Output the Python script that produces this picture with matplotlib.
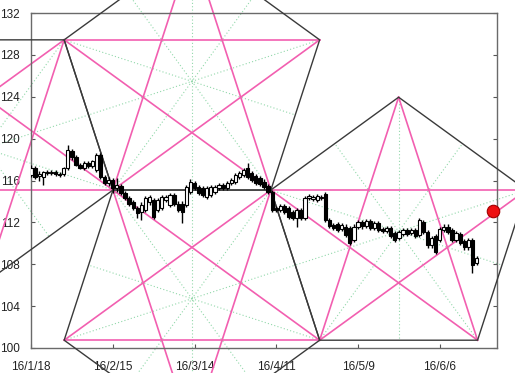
import numpy as np
import matplotlib
matplotlib.use('Agg')
import matplotlib.pyplot as plt

plt.rcParams['font.family'] = ['Liberation Sans', 'DejaVu Sans']

# daily candles, x = trading day index from 16/1/18
opens = [116.5, 117.2, 116.4, 116.3, 116.8, 116.7, 116.8, 116.6, 116.6, 117.2,
         118.8, 118.2, 117.5, 117.2, 117.7, 117.4, 117.0, 118.4, 116.3, 115.8,
         116.0, 115.3, 115.5, 114.8, 114.3, 113.9, 113.4, 113.0, 113.2, 113.9,
         114.1, 113.2, 113.4, 114.1, 113.7, 114.6, 113.8, 113.8, 113.7, 114.9,
         115.8, 115.4, 115.3, 114.4, 114.6, 114.9, 115.3, 115.6, 115.3, 115.8,
         115.9, 116.3, 116.5, 117.2, 116.7, 116.4, 116.2, 115.9, 115.5, 114.9,
         113.4, 113.2, 113.6, 113.4, 113.0, 112.4, 113.2, 112.4, 114.3, 114.2,
         114.1, 114.3, 114.7, 112.2, 111.75, 111.85, 111.4, 111.6, 111.5, 110.3,
         111.6, 112.0, 111.65, 112.1, 111.5, 111.9, 111.4, 111.2, 111.5, 111.0,
         110.5, 110.9, 111.3, 111.0, 111.3, 110.8, 112.0, 111.1, 109.8, 110.7,
         110.3, 111.3, 111.6, 111.3, 110.3, 110.9, 110.2, 109.65, 110.3, 108.1]
highs = [117.5, 117.4, 116.9, 116.9, 117.0, 117.0, 117.0, 116.8, 117.3, 119.4,
         119.0, 118.4, 117.7, 117.9, 117.9, 118.0, 118.6, 118.6, 116.5, 116.3,
         116.2, 116.2, 115.7, 115.0, 114.5, 114.1, 113.6, 113.9, 114.5, 114.6,
         114.3, 114.3, 114.6, 114.6, 114.8, 114.8, 114.0, 114.0, 115.6, 116.1,
         116.0, 115.6, 115.5, 115.5, 115.6, 115.6, 115.8, 115.8, 116.0, 116.2,
         116.7, 116.9, 117.2, 117.7, 116.9, 116.6, 116.4, 116.1, 115.7, 115.1,
         113.6, 113.8, 113.8, 113.6, 113.2, 113.4, 113.4, 114.5, 114.7, 114.6,
         114.7, 114.6, 114.9, 112.4, 111.95, 112.0, 111.9, 111.8, 111.7, 111.8,
         112.2, 112.2, 112.3, 112.3, 112.1, 112.1, 111.6, 111.7, 111.7, 111.2,
         111.3, 111.5, 111.5, 111.5, 111.5, 112.4, 112.2, 111.3, 110.7, 110.9,
         111.6, 111.8, 111.8, 111.5, 111.2, 111.1, 110.4, 110.5, 110.5, 108.8]
lows = [116.3, 116.1, 116.0, 115.6, 116.5, 116.5, 116.4, 116.3, 116.4, 117.0,
        118.0, 117.4, 117.1, 117.0, 117.2, 117.2, 116.8, 116.1, 115.6, 115.5,
        114.8, 114.9, 114.6, 114.1, 113.6, 113.2, 112.4, 112.2, 113.0, 113.7,
        112.3, 113.0, 113.2, 113.9, 113.5, 113.6, 113.0, 111.9, 113.5, 114.7,
        115.1, 114.6, 114.4, 114.2, 114.4, 114.7, 115.1, 115.1, 115.1, 115.6,
        115.7, 116.1, 116.3, 116.1, 115.9, 115.6, 115.5, 115.2, 114.7, 113.0,
        113.0, 113.0, 112.8, 112.3, 112.2, 111.6, 112.2, 112.2, 114.1, 114.0,
        113.9, 114.1, 112.0, 111.5, 111.3, 111.1, 111.2, 110.6, 109.8, 110.1,
        111.4, 111.4, 111.5, 111.3, 111.3, 111.1, 111.0, 111.0, 110.5, 110.1,
        110.3, 110.7, 110.7, 110.8, 110.5, 110.6, 110.9, 109.6, 109.6, 109.0,
        110.1, 111.1, 110.9, 110.1, 110.1, 109.8, 109.4, 109.4, 107.2, 107.9]
closes = [117.2, 116.3, 116.6, 116.8, 116.7, 116.8, 116.6, 116.5, 117.2, 118.9,
          118.2, 117.5, 117.2, 117.7, 117.4, 117.9, 118.4, 116.3, 115.8, 116.0,
          115.3, 115.6, 114.8, 114.3, 113.8, 113.4, 112.9, 113.7, 114.3, 114.4,
          112.5, 114.1, 114.4, 114.4, 114.6, 113.8, 113.2, 113.0, 115.4, 115.9,
          115.3, 114.8, 114.6, 115.3, 115.4, 115.4, 115.6, 115.3, 115.8, 116.0,
          116.5, 116.7, 117.0, 116.3, 116.05, 115.8, 115.7, 115.4, 114.9, 113.2,
          113.2, 113.6, 113.0, 112.5, 112.4, 113.2, 112.4, 114.3, 114.5, 114.4,
          114.5, 114.4, 112.2, 111.65, 111.5, 111.3, 111.75, 110.8, 110.0, 111.6,
          112.0, 111.65, 112.1, 111.5, 111.9, 111.3, 111.2, 111.5, 110.7, 110.3,
          111.1, 111.3, 110.9, 111.3, 110.7, 112.2, 111.1, 109.8, 110.5, 109.2,
          111.4, 111.6, 111.1, 110.3, 111.0, 110.0, 109.65, 110.3, 107.9, 108.6]

tick_pos = [0, 20, 40, 60, 80, 100]
tick_labels = ['16/1/18', '16/2/15', '16/3/14', '16/4/11', '16/5/9', '16/6/6']
y_ticks = list(range(100, 133, 4))

# shared bottom edge of the upper pentagon (day index, price)
edge_x = [20.05, 58.68]
edge_y = [115.09, 115.09]

# projected point
signal_x = 112.96
signal_y = 113.1

PINK = '#f25fb0'
DARK = '#3a3a3a'
DOT = '#92d8aa'

fig = plt.figure(figsize=(5.15, 3.73), dpi=100)
ax = fig.add_axes([31 / 515, 25 / 373, 466 / 515, 335 / 373])
ax.set_xlim(0, 114)
ax.set_ylim(100, 132)


def pentagon(p, q):
    # regular pentagon on screen, built counter clockwise from edge p->q
    tr = ax.transData
    a = tr.transform(p)
    b = tr.transform(q)
    pts = [a, b]
    d = b - a
    c, s = np.cos(np.radians(72)), np.sin(np.radians(72))
    for i in range(3):
        d = np.array([c * d[0] - s * d[1], s * d[0] + c * d[1]])
        pts.append(pts[-1] + d)
    return tr.inverted().transform(np.array(pts))


def draw_pentagon(v):
    for i in range(5):
        m = (v[(i + 2) % 5] + v[(i + 3) % 5]) / 2
        ax.plot([v[i][0], m[0]], [v[i][1], m[1]], color=DOT, lw=0.8,
                ls=(0, (1, 2)), clip_on=False, zorder=1)
    for i in range(5):
        j = (i + 2) % 5
        ax.plot([v[i][0], v[j][0]], [v[i][1], v[j][1]], color=PINK, lw=1.2,
                clip_on=False, zorder=2)
    loop = np.vstack([v, v[:1]])
    ax.plot(loop[:, 0], loop[:, 1], color=DARK, lw=1.0, clip_on=False, zorder=2.5)


P = np.array([edge_x[0], edge_y[0]])
Q = np.array([edge_x[1], edge_y[1]])
top = pentagon(P, Q)
bottom = pentagon(Q, P)
left = pentagon(P, top[4])
right = pentagon(Q, bottom[4])
for v in (top, bottom, left, right):
    draw_pentagon(v)

# candles
x = np.arange(len(closes))
o = np.array(opens)
c = np.array(closes)
ax.vlines(x, lows, highs, color='black', lw=1.0, zorder=3)
up = c >= o
body = np.maximum(np.abs(c - o), 0.08)
ax.bar(x[up], body[up], bottom=o[up], width=0.8, color='white',
       edgecolor='black', linewidth=0.8, zorder=4)
ax.bar(x[~up], body[~up], bottom=c[~up], width=0.8, color='black',
       edgecolor='black', linewidth=0.8, zorder=4)

ax.plot([signal_x], [signal_y], 'o', ms=9, color='#ee1111', mec='#a00000',
        mew=0.8, clip_on=False, zorder=5)

ax.set_xticks(tick_pos)
ax.set_xticklabels(tick_labels)
ax.set_yticks(y_ticks)
ax.tick_params(axis='both', direction='in', length=3, color='#555555',
               labelsize=8.5, labelcolor='#222222')
ax.tick_params(axis='x', pad=9)
ax.tick_params(axis='y', pad=8, right=True)
for sp in ax.spines.values():
    sp.set_color('#6a6a6a')
    sp.set_linewidth(1.0)
    sp.set_zorder(2.2)

fig.savefig('out.png', dpi=100)
